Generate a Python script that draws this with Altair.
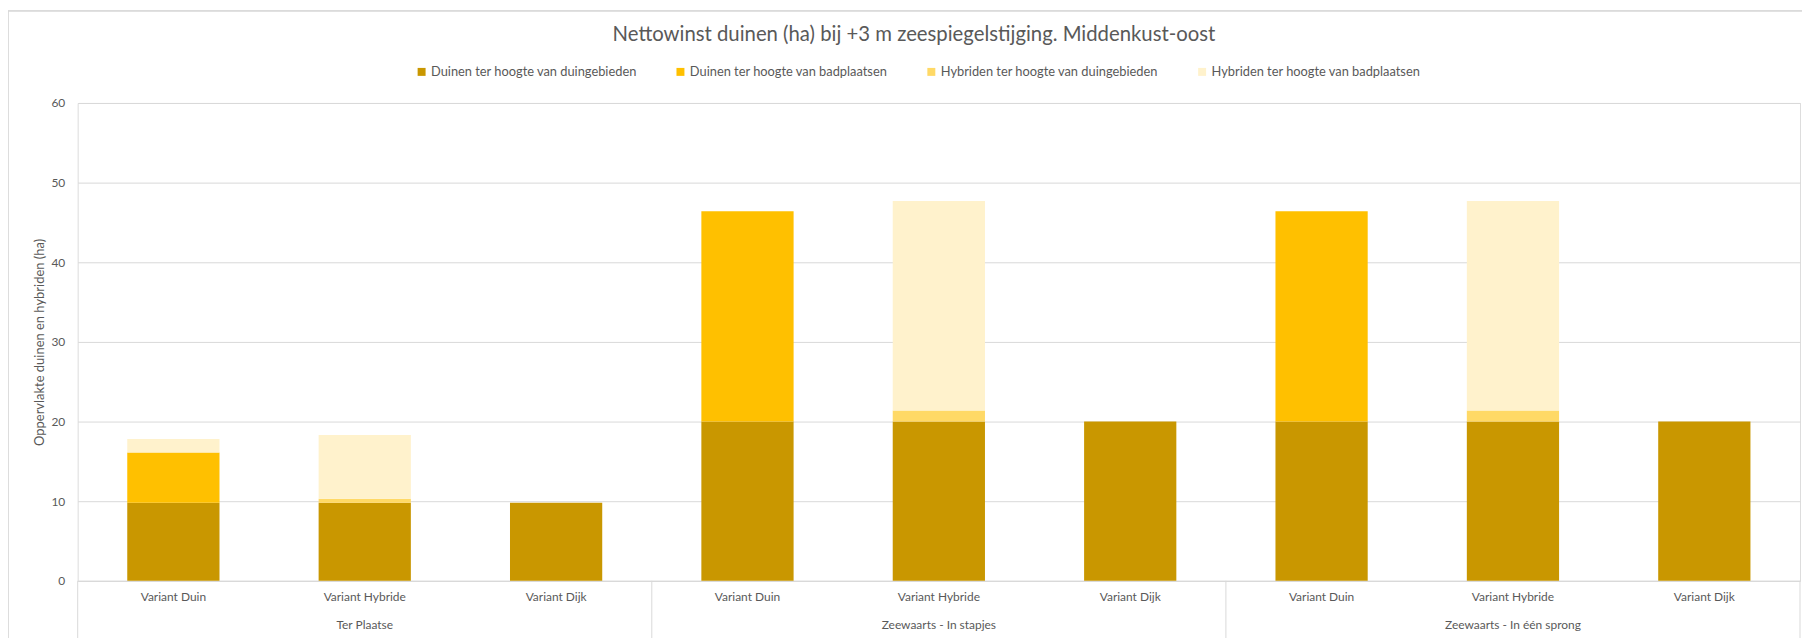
import altair as alt
import pandas as pd

# ---------------- data ----------------
groups = ["Ter Plaatse", "Zeewaarts - In stapjes", "Zeewaarts - In één sprong"]
variants = ["Variant Duin", "Variant Hybride", "Variant Dijk"]
series = [
    "Duinen ter hoogte van duingebieden",
    "Duinen ter hoogte van badplaatsen",
    "Hybriden ter hoogte van duingebieden",
    "Hybriden ter hoogte van badplaatsen",
]
colors = ["#C99700", "#FFC000", "#FFD966", "#FFF2CC"]

# values per category (group x variant), in order of groups then variants
duinen_duingebieden = [9.8, 9.8, 9.8, 20.0, 20.0, 20.0, 20.0, 20.0, 20.0]
duinen_badplaatsen = [6.3, 0.0, 0.0, 26.4, 0.0, 0.0, 26.4, 0.0, 0.0]
hybriden_duingebieden = [0.0, 0.5, 0.0, 0.0, 1.4, 0.0, 0.0, 1.4, 0.0]
hybriden_badplaatsen = [1.7, 8.0, 0.0, 0.0, 26.3, 0.0, 0.0, 26.3, 0.0]

y_ticks = [0, 10, 20, 30, 40, 50, 60]
title_text = "Nettowinst duinen (ha) bij +3 m zeespiegelstijging. Middenkust-oost"
y_title = "Oppervlakte duinen en hybriden (ha)"

# ---------------- tables ----------------
cats = [f"{g}|{v}" for g in groups for v in variants]
series_values = [duinen_duingebieden, duinen_badplaatsen, hybriden_duingebieden, hybriden_badplaatsen]
rows = []
for si, (s, vals) in enumerate(zip(series, series_values)):
    for ci, key in enumerate(cats):
        if vals[ci] > 0:
            rows.append({"cat": key, "series": s, "order": si, "value": vals[ci]})
df = pd.DataFrame(rows)

group_df = pd.DataFrame({"cat": [f"{g}|{variants[1]}" for g in groups], "label": groups})
sep_left_df = pd.DataFrame({"cat": [f"{g}|{variants[0]}" for g in groups]})
sep_right_df = pd.DataFrame({"cat": [cats[-1]]})

# ---------------- layout ----------------
W, H = 1730, 480
step = W / len(cats)
FONT = "Lato"
TXT = "#595959"
GRID = "#D9D9D9"

x_scale = alt.Scale(domain=cats, paddingInner=0.518, paddingOuter=0.259)
x_axis = alt.Axis(
    title=None,
    labelExpr="split(datum.label, '|')[1]",
    labelAngle=0,
    ticks=False,
    grid=False,
    domainColor=GRID,
    labelPadding=11,
    labelFont=FONT,
    labelFontSize=12,
    labelColor=TXT,
)


def xenc():
    return alt.X("cat:N", scale=x_scale, sort=cats, axis=x_axis)


bars = alt.Chart(df).mark_bar().encode(
    x=xenc(),
    y=alt.Y(
        "value:Q",
        stack="zero",
        scale=alt.Scale(domain=[0, 60], nice=False),
        axis=alt.Axis(
            values=y_ticks,
            title=y_title,
            domain=False,
            ticks=False,
            grid=True,
            gridColor=GRID,
            labelPadding=13,
            labelFont=FONT,
            labelFontSize=12,
            labelColor=TXT,
            titleFont=FONT,
            titleFontSize=13,
            titleFontWeight="normal",
            titleColor=TXT,
            titleX=-38,
            titleY=H / 2,
            titleAngle=270,
            titleAlign="center",
            titleBaseline="middle",
        ),
    ),
    color=alt.Color(
        "series:N",
        scale=alt.Scale(domain=series, range=colors),
        legend=alt.Legend(
            title=None,
            orient="none",
            legendX=339,
            legendY=-38,
            direction="horizontal",
            columns=4,
            symbolType="square",
            symbolSize=64,
            symbolStrokeWidth=0,
            labelFont=FONT,
            labelFontSize=12.9,
            labelColor=TXT,
            labelOffset=3,
            labelLimit=400,
            columnPadding=37,
            padding=0,
        ),
    ),
    order=alt.Order("order:Q", sort="ascending"),
)

group_text = alt.Chart(group_df).mark_text(
    font=FONT, fontSize=12, color=TXT, baseline="middle", align="center"
).encode(
    x=xenc(),
    y=alt.value(H + 44),
    text="label:N",
)

sep_left = alt.Chart(sep_left_df).mark_rule(color=GRID, strokeWidth=1, xOffset=-step / 2).encode(
    x=xenc(),
    y=alt.value(H),
    y2=alt.value(H + 60),
)
sep_right = alt.Chart(sep_right_df).mark_rule(color=GRID, strokeWidth=1, xOffset=step / 2).encode(
    x=xenc(),
    y=alt.value(H),
    y2=alt.value(H + 60),
)

# chart-area frame (left and top edges)
frame_left = alt.Chart(group_df).mark_rule(color=GRID, strokeWidth=1).encode(
    x=alt.value(-70), y=alt.value(-92.5), y2=alt.value(H + 60)
)
frame_top = alt.Chart(group_df).mark_rule(color=GRID, strokeWidth=1).encode(
    x=alt.value(-70), x2=alt.value(W + 2), y=alt.value(-92.5)
)

chart = alt.layer(bars, group_text, sep_left, sep_right, frame_left, frame_top).properties(
    width=W,
    height=H,
    autosize=alt.AutoSizeParams(type="none"),
    padding={"left": 70, "top": 94, "right": 2, "bottom": 56},
    title=alt.TitleParams(
        text=title_text,
        font=FONT,
        fontSize=20.4,
        fontWeight="normal",
        color=TXT,
        anchor="middle",
        frame="group",
        baseline="alphabetic",
        offset=0,
        dy=51.5,
        dx=-25,
    ),
).configure_view(stroke=None).configure(background="white")

chart.save("out.html", embed_options={"renderer": "svg", "actions": False})
